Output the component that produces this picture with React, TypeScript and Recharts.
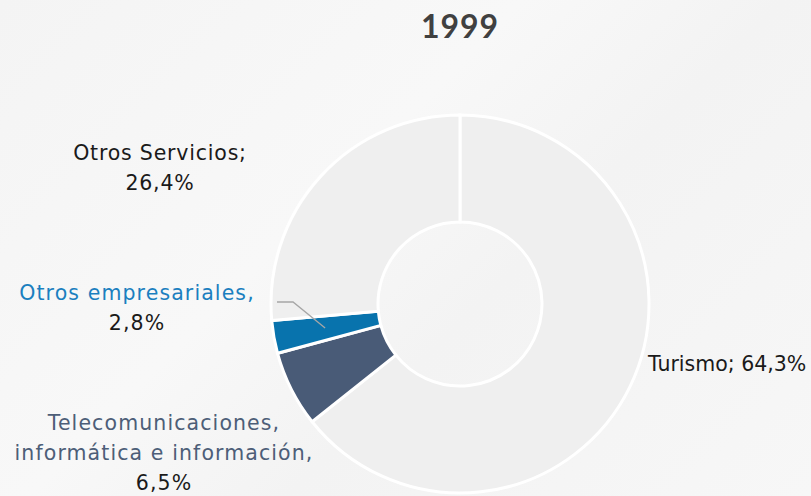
import { PieChart, Pie, Cell } from 'recharts';

const categories = ['Turismo', 'Telecomunicaciones, informática e información', 'Otros empresariales', 'Otros Servicios'];
const shares = [64.3, 6.5, 2.8, 26.4];
const title = '1999';

const COLORS = ['#efefef', '#495b77', '#0873ad', '#efefef'];
const TEXT = '#1a1a1a';
const SLATE = '#4d5e78';
const FONT = '"DejaVu Sans", Lato, sans-serif';

// label layout relative to pie centre (Excel-style manual placement)
const LABELS: Record<string, { dx: number; dy: number; anchor: string; ls: number; lines: { t: string; c: string }[] }> = {
  Turismo: { dx: 188, dy: 67, anchor: 'start', ls: 0, lines: [{ t: 'Turismo; 64,3%', c: TEXT }] },
  'Telecomunicaciones, informática e información': {
    dx: -296,
    dy: 126,
    anchor: 'middle',
    ls: 1.1,
    lines: [
      { t: 'Telecomunicaciones,', c: SLATE },
      { t: 'informática e información,', c: SLATE },
      { t: '6,5%', c: TEXT },
    ],
  },
  'Otros empresariales': {
    dx: -323,
    dy: -4,
    anchor: 'middle',
    ls: 1.1,
    lines: [
      { t: 'Otros empresariales,', c: '#1b7fbf' },
      { t: '2,8%', c: TEXT },
    ],
  },
  'Otros Servicios': {
    dx: -300,
    dy: -144,
    anchor: 'middle',
    ls: 0.8,
    lines: [
      { t: 'Otros Servicios;', c: TEXT },
      { t: '26,4%', c: TEXT },
    ],
  },
};

const data = categories.map((name, i) => ({ name, value: shares[i] }));

const RAD = Math.PI / 180;

function renderLabel(props: any) {
  const { cx, cy, index, midAngle } = props;
  const cfg = LABELS[categories[index]];
  const x = cx + cfg.dx;
  const y = cy + cfg.dy;
  let leader = null;
  if (categories[index] === 'Otros empresariales') {
    const r = 137;
    const px = cx + r * Math.cos(-midAngle * RAD);
    const py = cy + r * Math.sin(-midAngle * RAD);
    leader = (
      <polyline
        points={`${px},${py} ${cx - 167},${cy - 2} ${cx - 183},${cy - 2}`}
        fill="none"
        stroke="#a6a6a6"
        strokeWidth={1.3}
      />
    );
  }
  return (
    <g key={`lbl-${index}`}>
      {leader}
      <text
        x={x}
        y={y}
        textAnchor={cfg.anchor as any}
        fontFamily={FONT}
        fontSize={20.5}
        letterSpacing={cfg.ls}
      >
        {cfg.lines.map((l, j) => (
          <tspan key={j} x={x} dy={j === 0 ? 0 : 30} fill={l.c}>
            {l.t}
          </tspan>
        ))}
      </text>
    </g>
  );
}

export default function App() {
  return (
    <div
      style={{
        width: 811,
        height: 496,
        position: 'relative',
        overflow: 'hidden',
        background: 'linear-gradient(135deg, #f4f4f4 0%, #f8f8f8 40%, #f3f3f3 60%, #f7f7f7 100%)',
      }}
    >
      <style>{'body{margin:0}'}</style>
      <div
        style={{
          position: 'absolute',
          top: 6,
          left: 0,
          width: 920,
          textAlign: 'center',
          fontFamily: 'Lato, sans-serif',
          fontWeight: 700,
          fontSize: 32,
          color: '#404040',
          letterSpacing: 1,
        }}
      >
        {title}
      </div>
      <PieChart width={811} height={496} margin={{ top: 0, right: 0, bottom: 0, left: 0 }}>
        <Pie
          data={data}
          dataKey="value"
          nameKey="name"
          cx={460}
          cy={304}
          innerRadius={82}
          outerRadius={189}
          startAngle={90}
          endAngle={-270}
          stroke="#ffffff"
          strokeWidth={3}
          label={renderLabel}
          labelLine={false}
          isAnimationActive={false}
        >
          {data.map((d, i) => (
            <Cell key={d.name} fill={COLORS[i]} />
          ))}
        </Pie>
      </PieChart>
    </div>
  );
}
